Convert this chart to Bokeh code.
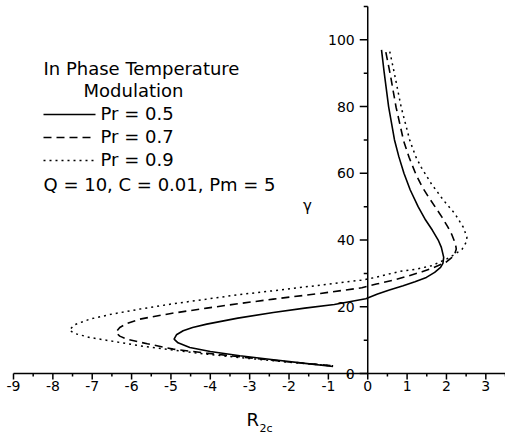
from bokeh.plotting import figure
from bokeh.models import Range1d, Label, LabelSet, ColumnDataSource
from bokeh.core.properties import value
from bokeh.embed import file_html
from bokeh.resources import INLINE

# ---------------- data ----------------
# Pr = 0.5 (solid)
gamma_05 = [97.0, 90.0, 80.0, 70.0, 65.0, 60.0, 55.0, 50.0, 46.0, 43.0, 40.0, 37.8,
            34.8, 33.0, 31.8, 30.3, 28.8, 27.5, 26.3, 25.0, 23.8, 22.4, 20.7, 19.6,
            18.3, 16.6, 14.8, 13.8, 12.8, 11.6, 10.3, 9.2, 7.8, 6.6, 5.3, 4.2, 3.1, 2.1]
r2c_05 = [0.35, 0.42, 0.53, 0.68, 0.79, 0.92, 1.08, 1.28, 1.47, 1.64, 1.79, 1.87,
          1.93, 1.91, 1.85, 1.70, 1.49, 1.20, 0.90, 0.55, 0.25, -0.05, -0.85, -1.60,
          -2.40, -3.30, -4.09, -4.45, -4.69, -4.86, -4.92, -4.82, -4.52, -4.00, -3.25,
          -2.45, -1.65, -0.88]

# Pr = 0.7 (dashed)
gamma_07 = [96.3, 89.8, 79.8, 69.8, 64.8, 59.8, 56.0, 52.8, 49.8, 46.8, 44.0, 41.8,
            38.8, 37.3, 35.8, 34.8, 33.3, 31.8, 30.5, 29.3, 28.0, 26.8, 25.7, 24.0,
            22.3, 20.9, 19.6, 18.0, 16.3, 15.0, 13.8, 12.3, 11.2, 10.3, 8.9, 7.3, 6.1,
            5.0, 3.6, 2.3]
r2c_07 = [0.46, 0.57, 0.72, 0.91, 1.05, 1.22, 1.38, 1.55, 1.72, 1.89, 2.03, 2.13,
          2.23, 2.25, 2.21, 2.14, 1.98, 1.68, 1.38, 1.05, 0.65, 0.22, -0.15, -1.20,
          -2.40, -3.30, -4.09, -5.00, -5.79, -6.12, -6.30, -6.40, -6.30, -6.12, -5.60,
          -4.94, -4.10, -3.25, -2.10, -0.88]

# Pr = 0.9 (dotted)
gamma_09 = [96.5, 89.8, 79.8, 69.8, 65.0, 61.8, 56.8, 52.0, 47.8, 43.8, 40.8, 39.3,
            37.3, 35.8, 34.3, 32.3, 31.3, 30.6, 29.7, 28.8, 28.0, 26.5, 24.8, 23.6,
            22.3, 20.8, 19.3, 17.8, 16.3, 14.6, 13.0, 12.0, 10.8, 9.6, 8.3, 7.0, 5.8,
            4.6, 3.4, 2.3]
r2c_09 = [0.56, 0.68, 0.85, 1.07, 1.22, 1.36, 1.62, 1.92, 2.22, 2.43, 2.52, 2.50,
          2.40, 2.22, 2.00, 1.62, 1.24, 0.81, 0.50, 0.20, -0.15, -1.20, -2.40, -3.30,
          -4.09, -5.00, -5.79, -6.50, -7.06, -7.45, -7.58, -7.45, -7.06, -6.45, -5.79,
          -4.95, -4.09, -3.10, -2.00, -0.88]

series_labels = ["Pr = 0.5", "Pr = 0.7", "Pr = 0.9"]

x_ticks = [-9, -8, -7, -6, -5, -4, -3, -2, -1, 0, 1, 2, 3]
x_tick_labels = ["-9", "-8", "-7", "-6", "-5", "-4", "-3", "-2", "-1", "0", "1", "2", "3"]
x_minor_ticks = [-8.5, -7.5, -6.5, -5.5, -4.5, -3.5, -2.5, -1.5, -0.5, 0.5, 1.5, 2.5, 3.5]
y_ticks = [0, 20, 40, 60, 80, 100]
y_tick_labels = ["0", "20", "40", "60", "80", "100"]
y_minor_ticks = [10, 30, 50, 70, 90, 110]

title_lines = ["In Phase Temperature", "Modulation"]
param_text = "Q = 10, C = 0.01, Pm = 5"
x_title, x_title_sub = "R", "2c"
y_title = "γ"

# axis extents (data units)
AX_X0, AX_X1 = -9, 3.5
AX_Y0, AX_Y1 = 0, 110

# ---------------- layout (pixels) ----------------
W, H = 505, 434
AXIS_LEFT_PX, AXIS_RIGHT_PX = 13, 505      # where x = -9 and x = 3.5 fall
AXIS_TOP_PX, AXIS_BOTTOM_PX = 6, 373       # where y = 110 and y = 0 fall
PPX = (AXIS_RIGHT_PX - AXIS_LEFT_PX) / (AX_X1 - AX_X0)
PPY = (AXIS_BOTTOM_PX - AXIS_TOP_PX) / (AX_Y1 - AX_Y0)
X_START = AX_X0 - AXIS_LEFT_PX / PPX
X_END = AX_X1 + (W - AXIS_RIGHT_PX) / PPX
Y_START = AX_Y0 - (H - AXIS_BOTTOM_PX) / PPY
Y_END = AX_Y1 + AXIS_TOP_PX / PPY


def sx(px):
    return X_START + px / PPX


def sy(py):
    return Y_START + (H - py) / PPY


FONT = "DejaVu Sans"
TICK_FONT = "14px"
LEG_FONT = "18px"
DASHED = "8 5"
DOTTED = "2 4"
LW = 1.5

p = figure(width=W, height=H, x_range=Range1d(X_START, X_END), y_range=Range1d(Y_START, Y_END),
           output_backend="svg", toolbar_location=None,
           x_axis_location=None, y_axis_location=None,
           min_border_left=0, min_border_right=0, min_border_top=0, min_border_bottom=0)
p.outline_line_color = None
p.xgrid.visible = False
p.ygrid.visible = False
p.background_fill_color = "white"
p.border_fill_color = "white"

# ---- x axis along y = 0 ----
p.segment(x0=[AX_X0], y0=[0], x1=[AX_X1], y1=[0], line_color="black", line_width=LW)
xmaj = 6 / PPY
xmin = 3 / PPY
p.segment(x0=x_ticks, y0=[0] * len(x_ticks), x1=x_ticks, y1=[-xmaj] * len(x_ticks),
          line_color="black", line_width=LW)
p.segment(x0=x_minor_ticks, y0=[0] * len(x_minor_ticks), x1=x_minor_ticks,
          y1=[-xmin] * len(x_minor_ticks), line_color="black", line_width=LW)
xsrc = ColumnDataSource(dict(x=x_ticks, y=[0] * len(x_ticks), t=x_tick_labels))
p.add_layout(LabelSet(x="x", y="y", text="t", source=xsrc, y_offset=-12,
                      text_align="center", text_baseline="middle",
                      text_font=value(FONT), text_font_size=value(TICK_FONT),
                      text_color="black"))

# ---- y axis along x = 0 ----
p.segment(x0=[0], y0=[AX_Y0], x1=[0], y1=[AX_Y1], line_color="black", line_width=LW)
ymaj = 8 / PPX
ymin = 4 / PPX
p.segment(x0=[-ymaj] * len(y_ticks), y0=y_ticks, x1=[0] * len(y_ticks), y1=y_ticks,
          line_color="black", line_width=LW)
p.segment(x0=[-ymin] * len(y_minor_ticks), y0=y_minor_ticks, x1=[0] * len(y_minor_ticks),
          y1=y_minor_ticks, line_color="black", line_width=LW)
ysrc = ColumnDataSource(dict(x=[0] * len(y_ticks), y=y_ticks, t=y_tick_labels))
p.add_layout(LabelSet(x="x", y="y", text="t", source=ysrc, x_offset=-13,
                      text_align="right", text_baseline="middle",
                      text_font=value(FONT), text_font_size=value(TICK_FONT),
                      text_color="black"))

# ---- curves ----
p.line(r2c_05, gamma_05, line_color="black", line_width=1.6)
p.line(r2c_07, gamma_07, line_color="black", line_width=1.6, line_dash=DASHED)
p.line(r2c_09, gamma_09, line_color="black", line_width=1.5, line_dash=DOTTED)


def text_label(px, py, txt, size, align="left"):
    p.add_layout(Label(x=sx(px), y=sy(py), text=txt, text_font=FONT, text_font_size=size,
                       text_align=align, text_baseline="middle", text_color="black"))


# ---- legend block ----
text_label(43, 68, title_lines[0], LEG_FONT)
text_label(83, 90, title_lines[1], LEG_FONT)
dashes = ["solid", DASHED, DOTTED]
for i, (lab, dash) in enumerate(zip(series_labels, dashes)):
    mid = 112.5 + 23 * i
    p.line([sx(43), sx(95)], [sy(mid + 1.5)] * 2, line_color="black", line_width=LW,
           line_dash=dash)
    text_label(100, mid, lab, LEG_FONT)
text_label(43, 184, param_text, LEG_FONT)

# ---- axis titles ----
text_label(307, 205, y_title, "15px", align="center")
text_label(246, 418.5, x_title, "18px")
text_label(259, 428, x_title_sub, "11px")

open("out.html", "w").write(file_html(p, INLINE))
